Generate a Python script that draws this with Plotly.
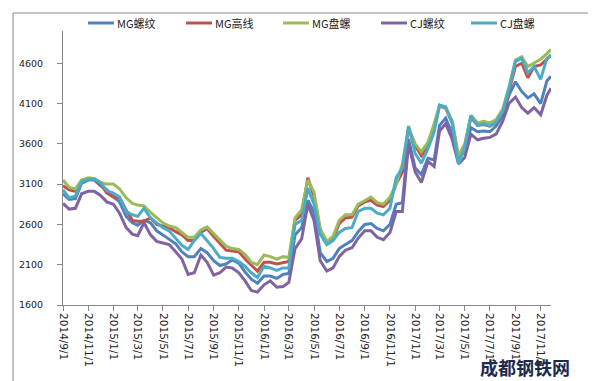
import plotly.graph_objects as go
from datetime import date

# half-monthly sample dates (2014/9/1 .. 2017/11/26)
dates = []
for y in range(2014, 2018):
    for m in range(1, 13):
        if (y == 2014 and m < 9) or (y == 2017 and m > 11):
            continue
        dates.append(f"{y}-{m:02d}-01")
        dates.append(f"{y}-{m:02d}-16")
dates.append("2017-11-26")

mg_luowen = [2980, 2910, 2920, 3110, 3150, 3150, 3080, 3030, 2940, 2880,
             2700, 2620, 2590, 2650, 2620, 2520, 2470, 2420, 2360, 2260,
             2200, 2200, 2300, 2250, 2150, 2090, 2110, 2160, 2120, 2010,
             1920, 1870, 1960, 1960, 1930, 1980, 1990, 2470, 2560, 2900,
             2750, 2250, 2140, 2180, 2300, 2350, 2400, 2510, 2600, 2610,
             2550, 2520, 2600, 2850, 2870, 3660, 3300, 3220, 3420, 3400,
             3830, 3920, 3720, 3420, 3500, 3800, 3750, 3760, 3750, 3820,
             3950, 4200, 4370, 4250, 4170, 4220, 4100, 4380, 4440]
mg_gaoxian = [3080, 3030, 3010, 3140, 3170, 3160, 3100, 2990, 2940, 2930,
              2780, 2650, 2640, 2640, 2680, 2600, 2580, 2560, 2510, 2470,
              2400, 2400, 2500, 2550, 2450, 2370, 2280, 2270, 2260, 2170,
              2100, 2020, 2130, 2130, 2110, 2130, 2140, 2650, 2720, 3180,
              2950, 2530, 2370, 2420, 2610, 2680, 2690, 2830, 2880, 2900,
              2840, 2820, 2900, 3100, 3250, 3800, 3580, 3450, 3560, 3800,
              4070, 4040, 3860, 3420, 3560, 3930, 3830, 3840, 3820, 3860,
              3990, 4250, 4560, 4600, 4420, 4560, 4580, 4650, 4700]
mg_panluo = [3150, 3060, 3040, 3150, 3180, 3170, 3120, 3100, 3100, 3040,
             2930, 2860, 2840, 2830, 2750, 2680, 2620, 2580, 2560, 2500,
             2440, 2440, 2530, 2570, 2490, 2410, 2330, 2300, 2290, 2230,
             2130, 2100, 2220, 2200, 2170, 2200, 2190, 2680, 2780, 3150,
             3000, 2550, 2390, 2450, 2650, 2720, 2720, 2850, 2900, 2940,
             2870, 2850, 2940, 3100, 3350, 3800, 3600, 3500, 3620, 3850,
             4080, 4050, 3880, 3450, 3600, 3950, 3860, 3880, 3860, 3900,
             4030, 4300, 4640, 4680, 4560, 4600, 4650, 4720, 4770]
cj_luowen = [2860, 2790, 2800, 2980, 3010, 3010, 2960, 2880, 2850, 2740,
             2560, 2480, 2460, 2620, 2470, 2390, 2370, 2350, 2260, 2170,
             1980, 2000, 2220, 2130, 1970, 2000, 2070, 2060, 2000, 1900,
             1780, 1760, 1850, 1900, 1820, 1830, 1880, 2300, 2420, 2850,
             2650, 2150, 2020, 2060, 2200, 2280, 2310, 2430, 2520, 2520,
             2440, 2410, 2500, 2760, 2760, 3600, 3250, 3120, 3380, 3320,
             3760, 3850, 3650, 3350, 3430, 3720, 3650, 3670, 3680, 3720,
             3880, 4100, 4180, 4050, 3980, 4050, 3960, 4200, 4290]
cj_panluo = [3030, 2930, 2950, 3130, 3160, 3160, 3120, 3020, 2990, 2940,
             2760, 2720, 2700, 2800, 2680, 2620, 2560, 2520, 2420, 2340,
             2290, 2400, 2490, 2400, 2300, 2190, 2180, 2180, 2140, 2080,
             2000, 1940, 2080, 2060, 2030, 2060, 2060, 2600, 2650, 3050,
             2850, 2480, 2350, 2400, 2500, 2550, 2560, 2760, 2800, 2800,
             2740, 2720, 2800, 3180, 3300, 3820, 3480, 3360, 3540, 3750,
             4080, 4060, 3850, 3350, 3560, 3950, 3830, 3850, 3820, 3870,
             4000, 4280, 4620, 4660, 4480, 4560, 4400, 4660, 4700]

series_names = ["MG螺纹", "MG高线", "MG盘螺", "CJ螺纹", "CJ盘螺"]
series_values = [mg_luowen, mg_gaoxian, mg_panluo, cj_luowen, cj_panluo]
colors = ["#4F81BD", "#C0504D", "#9BBB59", "#8064A2", "#4BACC6"]

tick_labels = ["2014/9/1", "2014/11/1", "2015/1/1", "2015/3/1", "2015/5/1",
               "2015/7/1", "2015/9/1", "2015/11/1", "2016/1/1", "2016/3/1",
               "2016/5/1", "2016/7/1", "2016/9/1", "2016/11/1", "2017/1/1",
               "2017/3/1", "2017/5/1", "2017/7/1", "2017/9/1", "2017/11/1"]
tick_vals = [date(*map(int, t.split("/"))).isoformat() for t in tick_labels]

y_ticks = [1600, 2100, 2600, 3100, 3600, 4100, 4600]

fig = go.Figure()
for name, vals, col in zip(series_names, series_values, colors):
    fig.add_trace(go.Scatter(x=dates, y=vals, name=name, mode="lines",
                             line=dict(color=col, width=3)))

# layout helpers (pixel -> paper)
L, R, T, B, W, H = 55, 53, 23, 84, 596, 381
PW, PH = W - L - R, H - T - B
def px(x):
    return (x - L) / PW
def py(y):
    return (H - B - y) / PH

axis_col = "#868686"
shapes = [dict(type="rect", xref="paper", yref="paper",
               x0=px(5), x1=px(587), y0=py(374), y1=py(5),
               line=dict(color=axis_col, width=1), layer="below")]
annotations = []
legend_x = [80, 178, 275, 373, 463]
for lx, name, col in zip(legend_x, series_names, colors):
    shapes.append(dict(type="line", xref="paper", yref="paper",
                       x0=px(lx), x1=px(lx + 26), y0=py(15), y1=py(15),
                       line=dict(color=col, width=3)))
    annotations.append(dict(text=name, xref="paper", yref="paper",
                            x=px(lx + 27), y=py(15), xanchor="left", yanchor="middle",
                            showarrow=False,
                            font=dict(family="Noto Sans CJK SC", size=11, color="#222")))
annotations.append(dict(text="<b>成都钢铁网</b>", xref="paper", yref="paper",
                        x=px(517), y=py(359), xanchor="center", yanchor="middle",
                        showarrow=False,
                        font=dict(family="Noto Sans CJK SC", size=18, color="#1d2a4d")))

fig.update_layout(
    width=W, height=H,
    margin=dict(l=L, r=R, t=T, b=B),
    paper_bgcolor="white", plot_bgcolor="white",
    showlegend=False,
    xaxis=dict(type="date", range=["2014-09-01", "2017-11-26"],
               tickvals=tick_vals, ticktext=tick_labels, tickangle=90,
               ticks="outside", ticklen=5, tickcolor=axis_col,
               showline=True, linecolor=axis_col, linewidth=1,
               showgrid=False, zeroline=False,
               tickfont=dict(family="DejaVu Sans", size=10.5, color="#222")),
    yaxis=dict(range=[1600, 5000], tickvals=y_ticks,
               ticks="outside", ticklen=5, tickcolor=axis_col,
               showline=True, linecolor=axis_col, linewidth=1,
               showgrid=False, zeroline=False, ticklabelstandoff=12,
               tickfont=dict(family="DejaVu Sans", size=9.5, color="#222")),
    shapes=shapes,
    annotations=annotations,
)

fig.write_html("out.html")
